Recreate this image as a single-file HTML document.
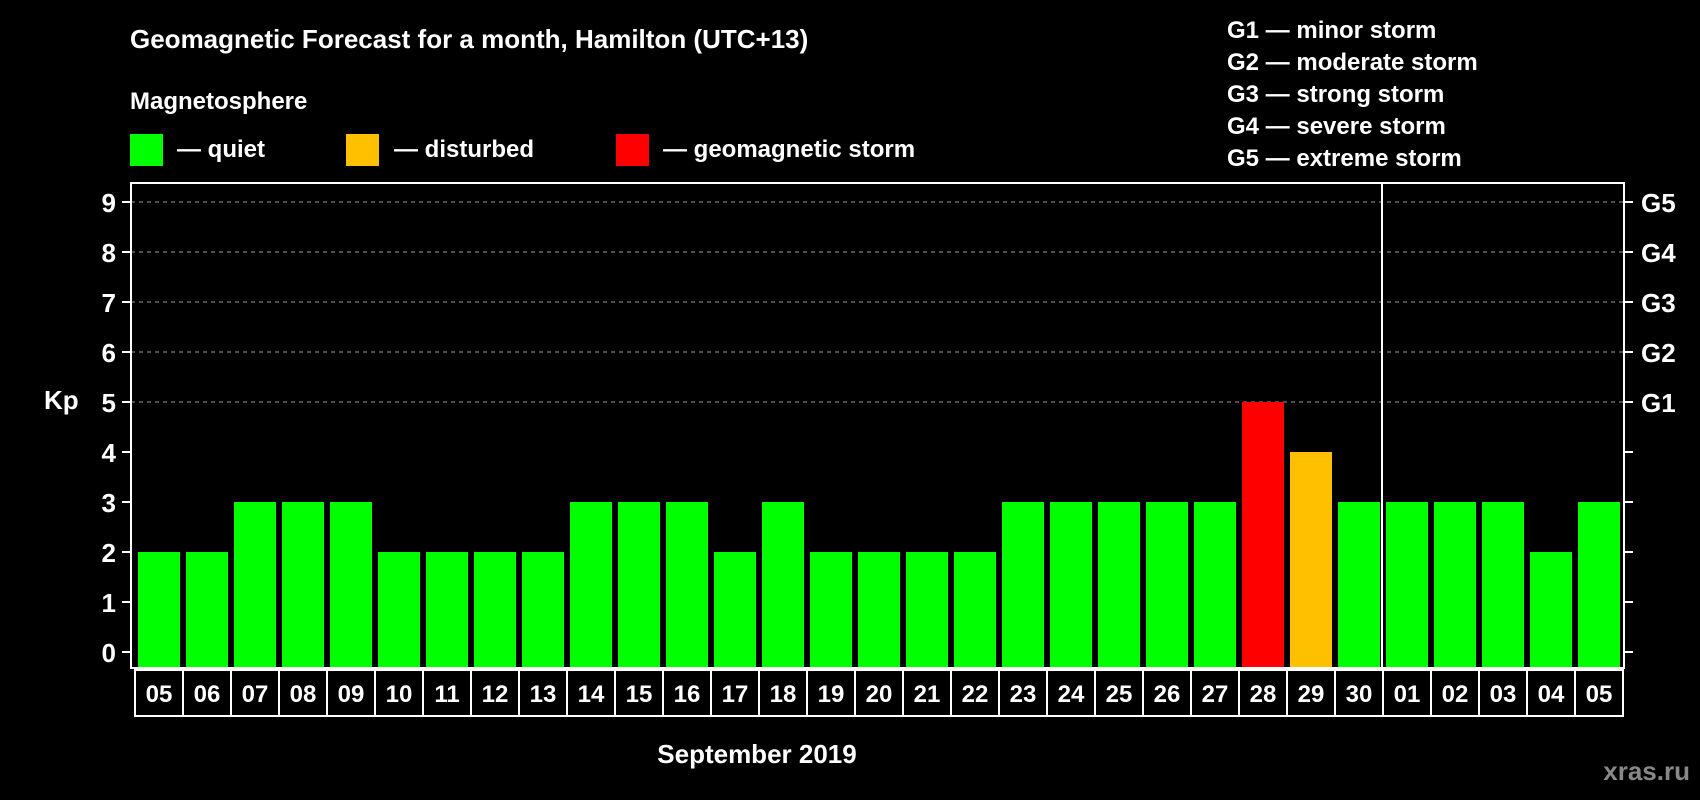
<!DOCTYPE html>
<html><head><meta charset="utf-8"><style>
html,body{margin:0;padding:0;background:#000;}
svg{display:block;font-family:"Liberation Sans",Arial,sans-serif;font-weight:bold;}
</style></head><body>
<svg id="chart" width="1700" height="800" viewBox="0 0 1700 800">
<rect x="0" y="0" width="1700" height="800" fill="#000"/>
<text x="130" y="48" fill="#fff" font-size="26">Geomagnetic Forecast for a month, Hamilton (UTC+13)</text>
<text x="130" y="109" fill="#fff" font-size="24">Magnetosphere</text>
<g>
<rect x="130" y="134" width="33" height="32" fill="#00ff00"/>
<text x="177" y="157" fill="#fff" font-size="24">— quiet</text></g>
<g>
<rect x="346" y="134" width="33" height="32" fill="#ffc000"/>
<text x="394" y="157" fill="#fff" font-size="24">— disturbed</text></g>
<g>
<rect x="616" y="134" width="33" height="32" fill="#ff0000"/>
<text x="663" y="157" fill="#fff" font-size="24">— geomagnetic storm</text></g>
<g fill="#fff" font-size="24">
<text x="1227" y="38">G1 — minor storm</text>
<text x="1227" y="70">G2 — moderate storm</text>
<text x="1227" y="102">G3 — strong storm</text>
<text x="1227" y="134">G4 — severe storm</text>
<text x="1227" y="166">G5 — extreme storm</text>
</g>
<g id="grid"></g>
<g id="bars"></g>
<rect x="131" y="183" width="1493" height="485" fill="none" stroke="#fff" stroke-width="2"/>
<line x1="1382" y1="183" x2="1382" y2="668" stroke="#fff" stroke-width="2"/>
<g id="yaxis"></g>
<g id="xaxis"></g>
<text x="44" y="409" fill="#fff" font-size="26">Kp</text>
<text x="757" y="763" fill="#fff" font-size="26" text-anchor="middle">September 2019</text>
<text x="1690" y="780" fill="#888" font-size="26" text-anchor="end">xras.ru</text>
</svg>
<script>
const days = ["05","06","07","08","09","10","11","12","13","14","15","16","17","18","19","20","21","22","23","24","25","26","27","28","29","30","01","02","03","04","05"];
const kpValues = [2,2,3,3,3,2,2,2,2,3,3,3,2,3,2,2,2,2,3,3,3,3,3,5,4,3,3,3,3,2,3];
const yTicks = [0,1,2,3,4,5,6,7,8,9];
const gLabels = ["G1","G2","G3","G4","G5"];
const gLevels = [5,6,7,8,9];

const NS="http://www.w3.org/2000/svg";
const plotL=131, plotR=1624, plotB=668, cellX0=135, cellW=48;
const y = v => 652 - 50*v;
const xCell = i => cellX0 + cellW*i;
function mk(tag, attrs, parent){const e=document.createElementNS(NS,tag);for(const k in attrs)e.setAttribute(k,attrs[k]);parent.appendChild(e);return e;}
const grid=document.getElementById('grid'), bars=document.getElementById('bars'), ya=document.getElementById('yaxis'), xa=document.getElementById('xaxis');

yTicks.forEach(t=>{
  if(t>=5){const g=mk('line',{x1:plotL,x2:plotR,y1:y(t),y2:y(t),stroke:'#999','stroke-width':1,'stroke-dasharray':'4,4'},grid);
  
  }
  const tl=mk('line',{x1:122,x2:plotL,y1:y(t),y2:y(t),stroke:'#fff','stroke-width':2},ya);
  
  
  const tr=mk('line',{x1:plotR,x2:1633,y1:y(t),y2:y(t),stroke:'#fff','stroke-width':2},ya);
  
  
  const lb=mk('text',{x:116,y:y(t)+10,fill:'#fff','font-size':26,'text-anchor':'end'},ya);
  lb.textContent=t;
  
  
});
gLevels.forEach((lv,i)=>{
  const t=mk('text',{x:1641,y:y(lv)+10,fill:'#fff','font-size':26},ya);
  t.textContent=gLabels[i];
  
  
});
kpValues.forEach((v,i)=>{
  const col = v>=5?'#ff0000':(v>=4?'#ffc000':'#00ff00');
  const r=mk('rect',{x:xCell(i)+3,y:y(v),width:42,height:plotB-y(v),fill:col},bars);
  
  
});
days.forEach((d,i)=>{
  const c=mk('rect',{x:xCell(i),y:670,width:cellW,height:46,fill:'none',stroke:'#fff','stroke-width':2},xa);
  
  
  const t=mk('text',{x:xCell(i)+cellW/2,y:702,fill:'#fff','font-size':24,'text-anchor':'middle'},xa);
  t.textContent=d;
  
  
});
</script>
</body></html>
